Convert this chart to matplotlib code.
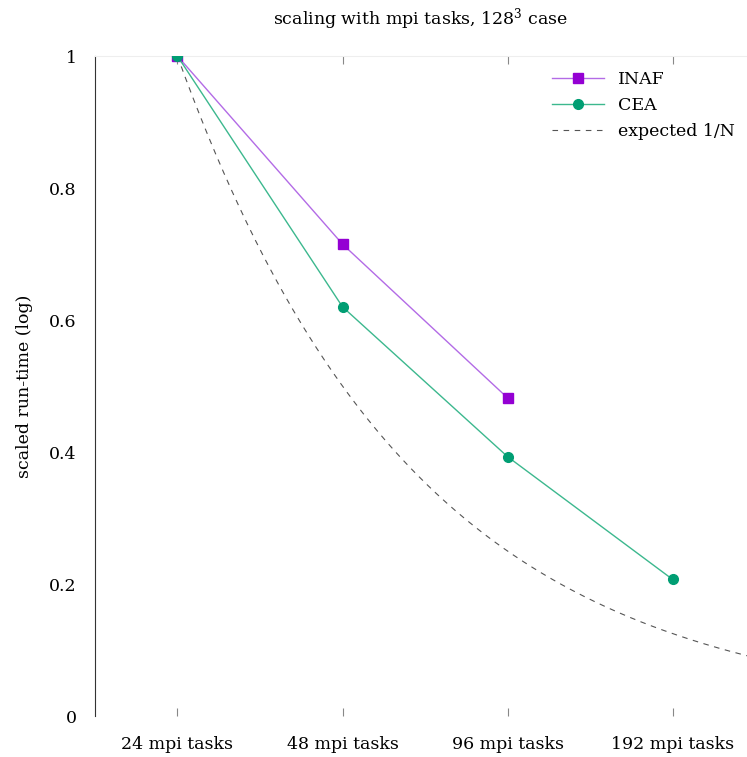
import numpy as np
import matplotlib
matplotlib.use("Agg")
import matplotlib.pyplot as plt

plt.rcParams['font.family'] = ['DejaVu Serif']
plt.rcParams['mathtext.fontset'] = 'dejavuserif'

categories = ["24 mpi tasks", "48 mpi tasks", "96 mpi tasks", "192 mpi tasks"]
tasks = [24, 48, 96, 192]
inaf = [1.0, 0.715, 0.482]
cea = [1.0, 0.62, 0.393, 0.207]
yticks = [0, 0.2, 0.4, 0.6, 0.8, 1]
yticklabels = ["0", "0.2", "0.4", "0.6", "0.8", "1"]

FS = 12.5

fig = plt.figure(figsize=(7.47, 7.57), dpi=100)
ax = fig.add_axes([0.127, 0.054, 0.873, 0.872])

xpos = np.arange(len(categories))

# ideal scaling: run time proportional to 1/N, drawn over a continuous axis
xs = np.linspace(0, 3.5, 300)
ax.plot(xs, tasks[0] / (tasks[0] * 2.0 ** xs), ls=(0, (5, 5)), color='#555555',
        lw=0.8, label='expected 1/N', zorder=1)

ax.plot(xpos[:len(inaf)], inaf, color='#b36be6', lw=1.0, marker='s', ms=7,
        mfc='#9400d3', mec='#9400d3', label='INAF', zorder=3)
ax.plot(xpos[:len(cea)], cea, color='#3cb88e', lw=1.0, marker='o', ms=7,
        mfc='#009e73', mec='#009e73', label='CEA', zorder=4)

ax.set_xlim(-0.5, 3.45)
ax.set_ylim(0, 1)
ax.set_xticks(xpos)
ax.set_xticklabels(categories, fontsize=FS)
ax.set_yticks(yticks)
ax.set_yticklabels(yticklabels, fontsize=FS)

ax.tick_params(axis='x', direction='in', length=6, color='#888888', top=True,
               pad=14, width=0.8)
ax.tick_params(axis='y', length=0, pad=13)

ax.spines['right'].set_visible(False)
ax.spines['bottom'].set_visible(False)
ax.spines['top'].set_color('#eeeeee')
ax.spines['top'].set_linewidth(0.8)
ax.spines['left'].set_color('#333333')
ax.spines['left'].set_linewidth(0.8)

ax.set_ylabel('scaled run-time (log)', fontsize=FS, labelpad=12)
ax.set_title(r'scaling with mpi tasks, 128$^3$ case', fontsize=FS, pad=23)

handles, labels = ax.get_legend_handles_labels()
order = [1, 2, 0]
ax.legend([handles[i] for i in order], [labels[i] for i in order],
          loc='upper right', bbox_to_anchor=(1.0, 0.995), frameon=False,
          fontsize=FS, handlelength=3.0, handletextpad=0.8, labelspacing=0.5,
          borderaxespad=0.3)

fig.savefig('out.png', dpi=100)
